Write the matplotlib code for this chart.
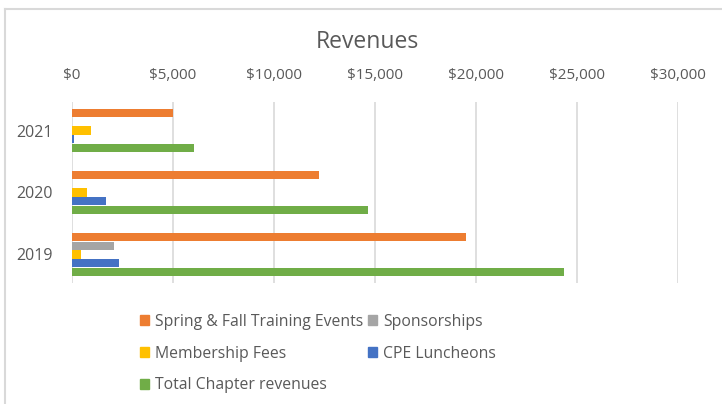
import matplotlib
matplotlib.use("Agg")
import matplotlib.pyplot as plt
from matplotlib.lines import Line2D
from matplotlib.patches import Patch
import numpy as np

plt.rcParams['font.family'] = ['Open Sans', 'DejaVu Sans']

years = ["2021", "2020", "2019"]
series_names = ["Spring & Fall Training Events", "Sponsorships", "Membership Fees",
                "CPE Luncheons", "Total Chapter revenues"]
spring_fall = [5000, 12230, 19500]
sponsorships = [0, 0, 2080]
membership = [950, 750, 460]
cpe = [80, 1670, 2330]
total = [6050, 14650, 24370]
colors = ["#ED7D31", "#A5A5A5", "#FFC000", "#4472C4", "#70AD47"]
xticks = [0, 5000, 10000, 15000, 20000, 25000, 30000]

valores = [spring_fall, sponsorships, membership, cpe, total]

fig = plt.figure(figsize=(7.22, 4.04), dpi=100)
W, H = 722, 404
ax = fig.add_axes([72 / W, 1 - 283 / H, (678 - 72) / W, (283 - 102) / H])

texto = "#595959"
y = np.arange(len(years))
paso = 0.139
alto = 0.13
for i, (vals, col) in enumerate(zip(valores, colors)):
    ax.barh(y + (i - 2) * paso, vals, height=alto, color=col, label=series_names[i], zorder=3)

ax.set_ylim(2.46, -0.46)
ax.set_xlim(0, 30000)
ax.set_xticks(xticks)
ax.set_xticklabels([f"${v:,}" for v in xticks])
ax.xaxis.tick_top()
ax.set_yticks(y)
ax.set_yticklabels(years)
ax.tick_params(axis='both', length=0, colors=texto, labelsize=11)
ax.tick_params(axis='y', labelsize=11.5)
ax.tick_params(axis='x', pad=14)
ax.tick_params(axis='y', pad=14)
ax.grid(axis='x', color="#D9D9D9", linewidth=1.2, zorder=0)
for s in ax.spines.values():
    s.set_visible(False)

fig.text(367 / W, 1 - 42 / H, "Revenues", ha='center', va='center', fontsize=16.5, color=texto)

# Leyenda en orden por filas
orden = [0, 2, 4, 1, 3]
handles = [Patch(color=colors[k]) for k in orden]
labels = [series_names[k] for k in orden]
fig.legend(handles, labels, loc='upper left', bbox_to_anchor=(140 / W, 1 - 314 / H),
           ncol=2, frameon=False, fontsize=11.3, labelcolor=texto,
           handlelength=0.6, handleheight=0.6, handletextpad=0.35,
           labelspacing=1.0, columnspacing=0.3, borderpad=0, borderaxespad=0)

# Borde del gráfico
fig.add_artist(Line2D([5 / W, 1], [1 - 9 / H, 1 - 9 / H], color="#D9D9D9", linewidth=1.5))
fig.add_artist(Line2D([5 / W, 5 / W], [0, 1 - 9 / H], color="#D9D9D9", linewidth=1.5))

fig.savefig("out.png", dpi=100)
